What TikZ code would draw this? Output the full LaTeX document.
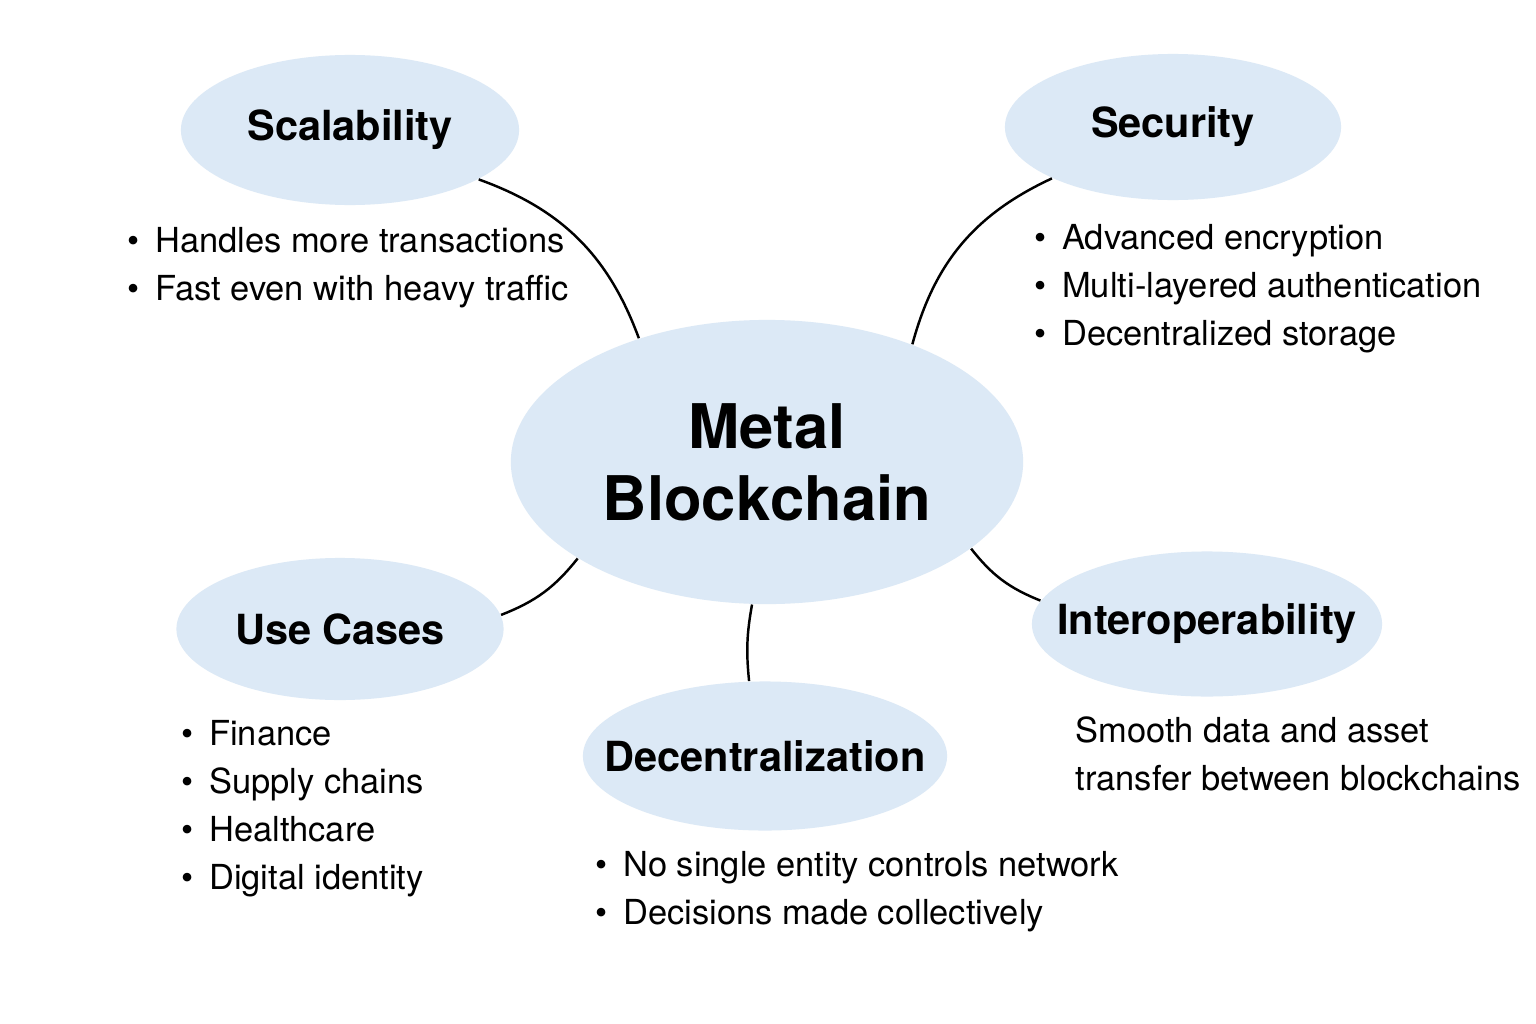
\documentclass[tikz,border=0pt]{standalone}
\usepackage{fontspec}
\setmainfont{TeX Gyre Heros}
\usetikzlibrary{shapes.geometric,positioning}
\definecolor{cBubble}{HTML}{DCE9F6}
\tikzset{
  hub/.style  ={ellipse, fill=cBubble, inner sep=0pt, align=center,
                minimum width=5.12cm, minimum height=2.84cm,
                font=\fontsize{17.5}{20.5}\selectfont\bfseries},
  topic/.style={ellipse, fill=cBubble, inner xsep=-5mm, inner ysep=0pt,
                font=\fontsize{11.8}{14}\selectfont\bfseries},
  pts/.style  ={align=left, inner sep=0pt, anchor=north west,
                font=\fontsize{9.8}{13.66}\selectfont},
  ln/.style   ={draw=black, line width=0.7pt},
}
\newcommand{\bul}{\textbullet\hspace{0.45em}}
\begin{document}
\begin{tikzpicture}[x=0.01cm,y=0.01cm]
  \fill[white] (0,0) rectangle (1536,-1024);
  \useasboundingbox (0,0) rectangle (1536,-1024);
  \node[hub] (mb) at (767,-462) {Metal\\Blockchain};
  \node[topic,minimum width=3.38cm,minimum height=1.50cm] (sc) at (350,-130) {Scalability};
  \node[topic,minimum width=3.36cm,minimum height=1.46cm] (se) at (1173,-127) {Security};
  \node[topic,minimum width=3.27cm,minimum height=1.42cm] (uc) at (340,-629) {Use Cases};
  \node[topic,minimum width=3.50cm,minimum height=1.45cm] (io) at (1207,-624) {Interoperability};
  \node[topic,minimum width=3.64cm,minimum height=1.49cm] (dc) at (765,-756) {Decentralization};
  \node[pts] (scl) at (127,-227) {\bul Handles more transactions\\\bul Fast even with heavy traffic};
  \node[pts] (sel) at (1034,-224) {\bul Advanced encryption\\\bul Multi-layered authentication\\\bul Decentralized storage};
  \node[pts] (ucl) at (181,-720) {\bul Finance\\\bul Supply chains\\\bul Healthcare\\\bul Digital identity};
  \node[pts] (dcl) at (595,-851) {\bul No single entity controls network\\\bul Decisions made collectively};
  \node[pts] (iol) at (1075,-716) {Smooth data and asset\\transfer between blockchains};
  \draw[ln](mb.136.4) to[bend right=25] (sc.-21.9);
  \draw[ln](mb.39.8) to[bend left=25] (se.203.7);
  \draw[ln](mb.207.3) to[bend left=15] (uc.5.3);
  \draw[ln](mb.-23.8) to[bend right=15] (io.172.5);
  \draw[ln](mb.-96.7) to[bend right=8] (dc.102.9);
\end{tikzpicture}
\end{document}
